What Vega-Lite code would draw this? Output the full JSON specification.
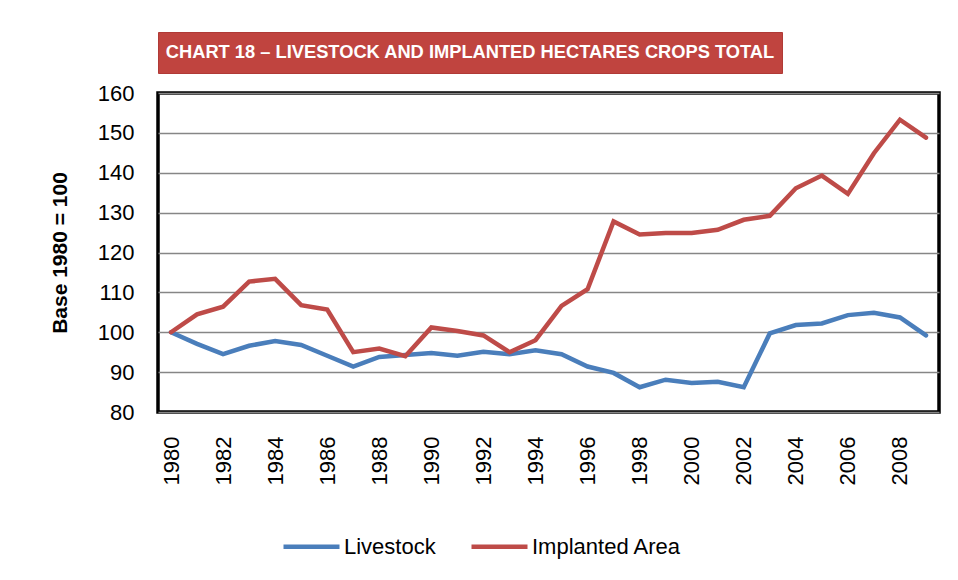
{
  "$schema": "https://vega.github.io/schema/vega-lite/v6.json",
  "autosize": {"type": "none"},
  "padding": {"left": 158, "top": 32, "right": 800, "bottom": 548},
  "background": "white",
  "config": {
    "font": "Liberation Sans",
    "axis": {"labelFont": "Liberation Sans", "labelColor": "black", "titleColor": "black"},
    "legend": {"labelFont": "Liberation Sans"}
  },
  "spacing": 20,
  "bounds": "flush",
  "vconcat": [
    {
      "width": 624,
      "height": 41,
      "view": {"fill": "#c0443f", "stroke": "#b03a36", "strokeWidth": 1},
      "data": {"values": [{"t": "CHART 18 – LIVESTOCK AND IMPLANTED HECTARES CROPS TOTAL"}]},
      "mark": {"type": "text", "color": "white", "font": "Liberation Sans", "fontWeight": "bold", "fontSize": 18.3, "baseline": "middle", "align": "center"},
      "encoding": {"text": {"field": "t", "type": "nominal"}}
    },
    {
      "width": 781,
      "height": 319,
      "view": {"stroke": "black", "strokeWidth": 3.5},
      "data": {"values": [
        {"year": 1980, "series": "Livestock", "value": 100},
        {"year": 1981, "series": "Livestock", "value": 97.1},
        {"year": 1982, "series": "Livestock", "value": 94.5},
        {"year": 1983, "series": "Livestock", "value": 96.6},
        {"year": 1984, "series": "Livestock", "value": 97.8},
        {"year": 1985, "series": "Livestock", "value": 96.8},
        {"year": 1986, "series": "Livestock", "value": 94.1},
        {"year": 1987, "series": "Livestock", "value": 91.4},
        {"year": 1988, "series": "Livestock", "value": 93.8},
        {"year": 1989, "series": "Livestock", "value": 94.3},
        {"year": 1990, "series": "Livestock", "value": 94.8},
        {"year": 1991, "series": "Livestock", "value": 94.1},
        {"year": 1992, "series": "Livestock", "value": 95.1},
        {"year": 1993, "series": "Livestock", "value": 94.5},
        {"year": 1994, "series": "Livestock", "value": 95.5},
        {"year": 1995, "series": "Livestock", "value": 94.5},
        {"year": 1996, "series": "Livestock", "value": 91.4},
        {"year": 1997, "series": "Livestock", "value": 89.8},
        {"year": 1998, "series": "Livestock", "value": 86.2},
        {"year": 1999, "series": "Livestock", "value": 88.1},
        {"year": 2000, "series": "Livestock", "value": 87.3},
        {"year": 2001, "series": "Livestock", "value": 87.6},
        {"year": 2002, "series": "Livestock", "value": 86.2},
        {"year": 2003, "series": "Livestock", "value": 99.7},
        {"year": 2004, "series": "Livestock", "value": 101.8},
        {"year": 2005, "series": "Livestock", "value": 102.2},
        {"year": 2006, "series": "Livestock", "value": 104.3},
        {"year": 2007, "series": "Livestock", "value": 104.9},
        {"year": 2008, "series": "Livestock", "value": 103.7},
        {"year": 2009, "series": "Livestock", "value": 99.2},
        {"year": 1980, "series": "Implanted Area", "value": 100},
        {"year": 1981, "series": "Implanted Area", "value": 104.5},
        {"year": 1982, "series": "Implanted Area", "value": 106.4},
        {"year": 1983, "series": "Implanted Area", "value": 112.7},
        {"year": 1984, "series": "Implanted Area", "value": 113.4},
        {"year": 1985, "series": "Implanted Area", "value": 106.8},
        {"year": 1986, "series": "Implanted Area", "value": 105.7},
        {"year": 1987, "series": "Implanted Area", "value": 95.0},
        {"year": 1988, "series": "Implanted Area", "value": 95.9},
        {"year": 1989, "series": "Implanted Area", "value": 94.0},
        {"year": 1990, "series": "Implanted Area", "value": 101.2},
        {"year": 1991, "series": "Implanted Area", "value": 100.3},
        {"year": 1992, "series": "Implanted Area", "value": 99.2},
        {"year": 1993, "series": "Implanted Area", "value": 95.0},
        {"year": 1994, "series": "Implanted Area", "value": 98.0},
        {"year": 1995, "series": "Implanted Area", "value": 106.6},
        {"year": 1996, "series": "Implanted Area", "value": 110.8},
        {"year": 1997, "series": "Implanted Area", "value": 127.8},
        {"year": 1998, "series": "Implanted Area", "value": 124.5},
        {"year": 1999, "series": "Implanted Area", "value": 124.9},
        {"year": 2000, "series": "Implanted Area", "value": 124.9},
        {"year": 2001, "series": "Implanted Area", "value": 125.7},
        {"year": 2002, "series": "Implanted Area", "value": 128.2},
        {"year": 2003, "series": "Implanted Area", "value": 129.2},
        {"year": 2004, "series": "Implanted Area", "value": 136.1},
        {"year": 2005, "series": "Implanted Area", "value": 139.3},
        {"year": 2006, "series": "Implanted Area", "value": 134.7},
        {"year": 2007, "series": "Implanted Area", "value": 144.9},
        {"year": 2008, "series": "Implanted Area", "value": 153.3},
        {"year": 2009, "series": "Implanted Area", "value": 148.8}
      ]},
      "mark": {"type": "line", "strokeWidth": 4.5, "strokeCap": "round", "strokeJoin": "miter"},
      "encoding": {
        "x": {
          "field": "year", "type": "ordinal",
          "scale": {"type": "point", "padding": 0.5},
          "axis": {
            "title": null, "values": [1980,1982,1984,1986,1988,1990,1992,1994,1996,1998,2000,2002,2004,2006,2008],
            "labelAngle": -90, "labelFontSize": 22, "labelPadding": 24, "ticks": false, "domain": false, "grid": false
          }
        },
        "y": {
          "field": "value", "type": "quantitative",
          "scale": {"domain": [80, 160], "nice": false, "zero": false},
          "axis": {
            "title": "Base 1980 = 100", "titleFontSize": 21, "titleFontWeight": "bold", "titlePadding": 27,
            "values": [80,90,100,110,120,130,140,150,160],
            "labelFontSize": 22, "labelPadding": 24, "ticks": false, "domain": false,
            "grid": true, "gridColor": "#868686", "gridWidth": 1.6
          }
        },
        "color": {
          "field": "series", "type": "nominal",
          "scale": {"domain": ["Livestock", "Implanted Area"], "range": ["#4a7ebb", "#be4b48"]},
          "legend": {
            "title": null, "orient": "none", "direction": "horizontal",
            "legendX": 123, "legendY": 484,
            "symbolType": "stroke", "symbolSize": 3136, "symbolStrokeWidth": 4.5,
            "labelFontSize": 22, "labelColor": "black", "labelOffset": 2, "columnPadding": 26
          }
        }
      }
    }
  ]
}
